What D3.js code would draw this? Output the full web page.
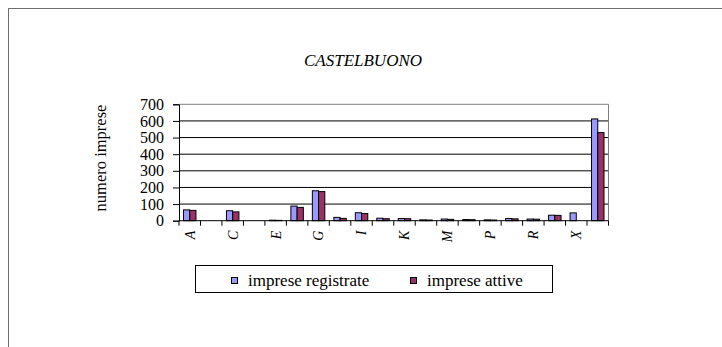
<!DOCTYPE html>
<html>
<head>
<meta charset="utf-8">
<script src="https://cdn.jsdelivr.net/npm/d3@7"></script>
<style>
  html, body { margin: 0; padding: 0; background: #fff; }
  svg { display: block; }
  svg text { font-family: 'Liberation Serif', 'Times New Roman', Tinos, 'DejaVu Serif', serif; }
</style>
</head>
<body>
<svg id="chart" width="722" height="347"></svg>
<script>
const categories = ["A","B","C","D","E","F","G","H","I","J","K","L","M","N","P","Q","R","S","X","Totale"];
const registrate = [65,0,60,0,3,88,180,20,48,15,13,5,10,7,5,13,10,33,47,612];
const attive     = [62,0,53,0,2,80,175,14,43,12,12,4,8,6,4,11,9,32,0,530];
const seriesNames = ["imprese registrate","imprese attive"];
const seriesColors = ["#9999FF","#993366"];
const yTicks = [0,100,200,300,400,500,600,700];
const title = "CASTELBUONO";
const yLabel = "numero imprese";

const svg = d3.select("#chart");

// outer frame
svg.append("rect").attr("x",8.5).attr("y",8.5).attr("width",730).attr("height",350)
  .attr("fill","none").attr("stroke","#6e6e6e").attr("stroke-width",1);

const L = 179, R = 608.5, T = 104.3, B = 220.7;

const x = d3.scaleBand().domain(categories).range([L, R]).padding(0);
const y = d3.scaleLinear().domain([0,700]).range([B, T]);

// gridlines
svg.append("g").selectAll("line").data(yTicks.filter(d=>d>0)).join("line")
  .attr("x1",L).attr("x2",R).attr("y1",d=>y(d)).attr("y2",d=>y(d))
  .attr("stroke", d => d===700 ? "#808080" : "#000").attr("stroke-width",1);

// right border of plot area
svg.append("line").attr("x1",R).attr("x2",R).attr("y1",T).attr("y2",B)
  .attr("stroke","#808080").attr("stroke-width",1);

// bars
const groupW = x.bandwidth()*0.58;
const barW = groupW/2;
const data = categories.map((c,i)=>({c, v:[registrate[i], attive[i]]}));
const g = svg.append("g");
data.forEach(d=>{
  d.v.forEach((v,k)=>{
    if (v<=0) return;
    const x0 = x(d.c) + (x.bandwidth()-groupW)/2 + k*barW;
    g.append("rect")
      .attr("x", x0).attr("y", y(v))
      .attr("width", barW).attr("height", B - y(v))
      .attr("fill", seriesColors[k]).attr("stroke","#000").attr("stroke-width",1);
  });
});

// y axis
const yAxis = d3.axisLeft(y).tickValues(yTicks).tickSize(6).tickPadding(9);
const ya = svg.append("g").attr("transform",`translate(${L},0)`).call(yAxis);
ya.attr("font-family",null);
ya.select(".domain").attr("stroke","#000");
ya.selectAll(".tick line").attr("stroke","#000");
ya.selectAll("text").attr("font-size","16px").attr("fill","#000");

// x axis
const xAxis = d3.axisBottom(x).tickSize(0).tickFormat((d,i)=> i%2===0 && d!=="Totale" ? d : "");
const xa = svg.append("g").attr("transform",`translate(0,${B})`).call(xAxis);
xa.attr("font-family",null);
xa.select(".domain").attr("stroke","#000").attr("d",`M${L},0H${R}`);
xa.selectAll("text")
  .attr("font-size","14px").attr("font-style","italic").attr("fill","#000")
  .attr("text-anchor","end").attr("dy","0.35em")
  .attr("transform","translate(0,10) rotate(-90)")
  .attr("x",0).attr("y",0);
// category boundary ticks
svg.append("g").selectAll("line").data(categories.concat(["__end"])).join("line")
  .attr("x1",(d,i)=> i<categories.length ? x(d) : R)
  .attr("x2",(d,i)=> i<categories.length ? x(d) : R)
  .attr("y1",B).attr("y2",B+5).attr("stroke","#000");

// title
svg.append("text").attr("x",363).attr("y",66).attr("text-anchor","middle")
  .attr("font-size","17px").attr("font-style","italic").text(title);

// y label
svg.append("text").attr("transform","translate(106,158) rotate(-90)")
  .attr("text-anchor","middle").attr("font-size","16.5px").text(yLabel);

// legend
const leg = svg.append("g");
leg.append("rect").attr("x",195.5).attr("y",265.5).attr("width",357).attr("height",27)
  .attr("fill","#fff").attr("stroke","#000");
const legX = [231, 410];
seriesNames.forEach((n,k)=>{
  leg.append("rect").attr("x",legX[k]+0.5).attr("y",277.5).attr("width",6).attr("height",6)
    .attr("fill",seriesColors[k]).attr("stroke","#000");
  leg.append("text").attr("x",legX[k]+17).attr("y",285.5)
    .attr("font-size","17px").text(n);
});
</script>
</body>
</html>
